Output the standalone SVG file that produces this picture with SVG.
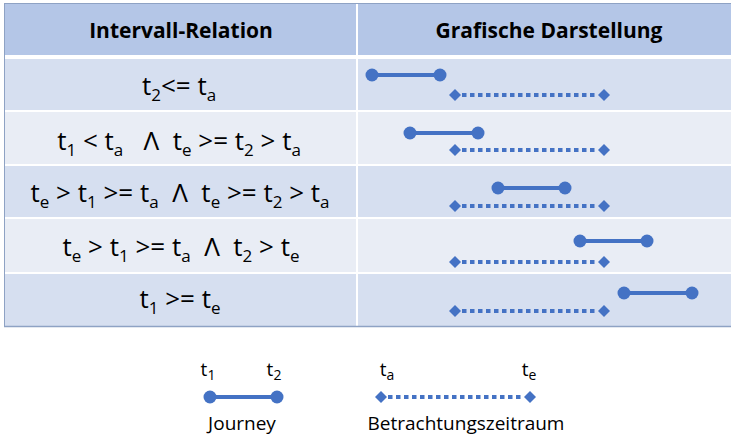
<svg xmlns="http://www.w3.org/2000/svg" width="731" height="436" viewBox="0 0 731 436">
<style>
.t{font-family:"Open Sans","Liberation Sans",sans-serif;font-size:26px;fill:#000;text-anchor:middle;white-space:pre}
.h{font-family:"Open Sans","Liberation Sans",sans-serif;font-size:21px;font-weight:bold;fill:#000;text-anchor:middle}
.l{font-family:"Open Sans","Liberation Sans",sans-serif;font-size:19px;fill:#000;text-anchor:middle}
.s{font-size:17px}
.ls{font-size:14px}
.j{stroke:#4472C4;stroke-width:4;fill:none}
.d{stroke:#4472C4;stroke-width:4;stroke-dasharray:4.5 3.5;fill:none}
.sep{stroke:#fff;stroke-width:2}
</style>
<defs>
<circle id="dot" r="6.5" fill="#4472C4"/>
<polygon id="dia" points="0,-6 6,0 0,6 -6,0" fill="#4472C4"/>
</defs>
<g id="table">
<rect x="4" y="3" width="727" height="324" fill="#fff"/>
<rect x="4" y="3" width="727" height="52" fill="#B4C6E7"/>
<rect x="4" y="59" width="727" height="52" fill="#D6DFF0"/>
<rect x="4" y="111" width="727" height="54" fill="#E9EDF5"/>
<rect x="4" y="165" width="727" height="53" fill="#D6DFF0"/>
<rect x="4" y="218" width="727" height="55" fill="#E9EDF5"/>
<rect x="4" y="273" width="727" height="54" fill="#D6DFF0"/>
<line class="sep" x1="4" y1="111" x2="731" y2="111"/>
<line class="sep" x1="4" y1="165" x2="731" y2="165"/>
<line class="sep" x1="4" y1="218" x2="731" y2="218"/>
<line class="sep" x1="4" y1="273" x2="731" y2="273"/>
<line class="sep" x1="357" y1="3" x2="357" y2="327"/>
<line x1="4" y1="3.5" x2="731" y2="3.5" stroke="#8EA2C4" stroke-width="1"/>
<line x1="4.5" y1="3" x2="4.5" y2="327" stroke="#8EA2C4" stroke-width="1"/>
<line x1="4" y1="326.5" x2="731" y2="326.5" stroke="#8EA2C4" stroke-width="1.5"/>
</g>
<g id="header">
<text class="h" x="181" y="38">Intervall-Relation</text>
<text class="h" x="549" y="38">Grafische Darstellung</text>
</g>
<g id="relations">
<text class="t" x="179" y="95">t<tspan class="s" dy="6">2</tspan><tspan dy="-6">&lt;= t</tspan><tspan class="s" dy="6">a</tspan></text>
<text class="t" x="179" y="150">t<tspan class="s" dy="6">1</tspan><tspan dy="-6"> &lt; t</tspan><tspan class="s" dy="6">a</tspan><tspan dy="-6">   Λ  t</tspan><tspan class="s" dy="6">e</tspan><tspan dy="-6"> &gt;= t</tspan><tspan class="s" dy="6">2</tspan><tspan dy="-6"> &gt; t</tspan><tspan class="s" dy="6">a</tspan></text>
<text class="t" x="180" y="202">t<tspan class="s" dy="6">e</tspan><tspan dy="-6"> &gt; t</tspan><tspan class="s" dy="6">1</tspan><tspan dy="-6"> &gt;= t</tspan><tspan class="s" dy="6">a</tspan><tspan dy="-6">  Λ  t</tspan><tspan class="s" dy="6">e</tspan><tspan dy="-6"> &gt;= t</tspan><tspan class="s" dy="6">2</tspan><tspan dy="-6"> &gt; t</tspan><tspan class="s" dy="6">a</tspan></text>
<text class="t" x="181" y="256">t<tspan class="s" dy="6">e</tspan><tspan dy="-6"> &gt; t</tspan><tspan class="s" dy="6">1</tspan><tspan dy="-6"> &gt;= t</tspan><tspan class="s" dy="6">a</tspan><tspan dy="-6">  Λ  t</tspan><tspan class="s" dy="6">2</tspan><tspan dy="-6"> &gt; t</tspan><tspan class="s" dy="6">e</tspan></text>
<text class="t" x="180" y="308">t<tspan class="s" dy="6">1</tspan><tspan dy="-6"> &gt;= t</tspan><tspan class="s" dy="6">e</tspan></text>
</g>
<g id="connectors">
<line class="j" x1="372" y1="75" x2="440" y2="75"/>
<line class="j" x1="410" y1="133" x2="478" y2="133"/>
<line class="j" x1="498" y1="188" x2="565" y2="188"/>
<line class="j" x1="580" y1="241" x2="647" y2="241"/>
<line class="j" x1="624" y1="293" x2="692" y2="293"/>
<line class="d" x1="462" y1="95" x2="598" y2="95"/>
<line class="d" x1="462" y1="150" x2="598" y2="150"/>
<line class="d" x1="462" y1="206" x2="598" y2="206"/>
<line class="d" x1="462" y1="262" x2="598" y2="262"/>
<line class="d" x1="462" y1="311" x2="598" y2="311"/>
<line class="j" x1="210" y1="397" x2="277" y2="397"/>
<line class="d" x1="388" y1="397" x2="524" y2="397"/>
</g>
<g id="endpoints">
<use href="#dot" x="372" y="75"/><use href="#dot" x="440" y="75"/>
<use href="#dot" x="410" y="133"/><use href="#dot" x="478" y="133"/>
<use href="#dot" x="498" y="188"/><use href="#dot" x="565" y="188"/>
<use href="#dot" x="580" y="241"/><use href="#dot" x="647" y="241"/>
<use href="#dot" x="624" y="293"/><use href="#dot" x="692" y="293"/>
<use href="#dia" x="455" y="95"/><use href="#dia" x="604" y="95"/>
<use href="#dia" x="455" y="150"/><use href="#dia" x="604" y="150"/>
<use href="#dia" x="455" y="206"/><use href="#dia" x="604" y="206"/>
<use href="#dia" x="455" y="262"/><use href="#dia" x="604" y="262"/>
<use href="#dia" x="455" y="311"/><use href="#dia" x="604" y="311"/>
</g>
<g id="legend-journey">
<use href="#dot" x="210" y="397"/><use href="#dot" x="277" y="397"/>
<text class="l" x="208" y="376">t<tspan class="ls" dy="4">1</tspan></text>
<text class="l" x="274" y="376">t<tspan class="ls" dy="4">2</tspan></text>
<text class="l" x="242" y="430">Journey</text>
</g>
<g id="legend-period">
<use href="#dia" x="381" y="397"/><use href="#dia" x="530" y="397"/>
<text class="l" x="387" y="376">t<tspan class="ls" dy="4">a</tspan></text>
<text class="l" x="529" y="376">t<tspan class="ls" dy="4">e</tspan></text>
<text class="l" x="466" y="430">Betrachtungszeitraum</text>
</g>
</svg>
